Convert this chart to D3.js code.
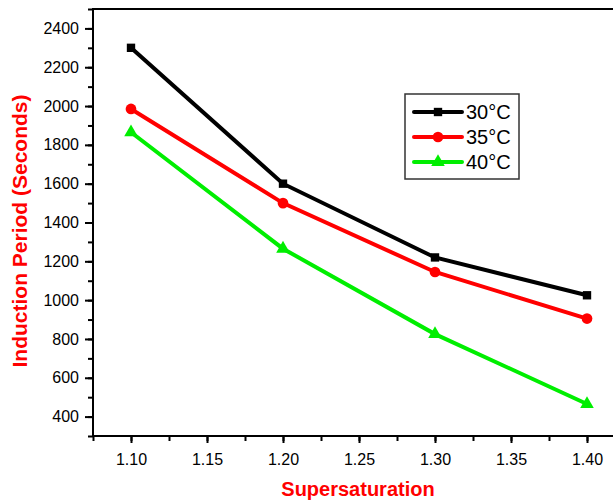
<!DOCTYPE html>
<html lang="en">
<head>
    <meta charset="UTF-8">
    <script src="https://d3js.org/d3.v7.min.js" charset="utf-8"></script>
    <title>Induction period</title>
    <style>
        body { margin: 0; background: #fff; }
        svg { display: block; font-family: "Liberation Sans", Arial, sans-serif; }
    </style>
</head>
<body>
    <div id="chart"></div>
    <script>
        // data
        const supersaturation = [1.10, 1.20, 1.30, 1.40];
        const t30 = [2300, 1600, 1220, 1025];
        const t35 = [1985, 1500, 1145, 905];
        const t40 = [1865, 1265, 825, 465];
        const seriesNames = ["30°C", "35°C", "40°C"];
        const seriesColors = ["#000000", "#ff0000", "#00ee00"];
        const seriesShapes = ["square", "circle", "triangle"];
        const xTicks = [1.10, 1.15, 1.20, 1.25, 1.30, 1.35, 1.40];
        const yTicks = [400, 600, 800, 1000, 1200, 1400, 1600, 1800, 2000, 2200, 2400];

        const width = 613, height = 503;
        const plotLeft = 93, plotTop = 9, plotBottom = 436, plotRight = 625;

        const x = d3.scaleLinear().domain([1.075, 1.425]).range([plotLeft, plotRight]);
        const y = d3.scaleLinear().domain([300, 2500]).range([plotBottom, plotTop]);

        const svg = d3.select("#chart").append("svg")
            .attr("width", width)
            .attr("height", height);

        // frame
        svg.append("rect")
            .attr("x", plotLeft).attr("y", plotTop)
            .attr("width", plotRight - plotLeft).attr("height", plotBottom - plotTop)
            .attr("fill", "none").attr("stroke", "#000").attr("stroke-width", 2);

        // x axis, major + minor
        const xMin = svg.append("g").attr("transform", "translate(0," + plotBottom + ")")
            .call(d3.axisBottom(x).tickValues(d3.range(1.075, 1.43, 0.025)).tickSize(5).tickFormat(""));
        xMin.select(".domain").remove();
        const xMaj = svg.append("g").attr("transform", "translate(0," + plotBottom + ")")
            .call(d3.axisBottom(x).tickValues(xTicks).tickSize(7).tickPadding(11).tickFormat(d3.format(".2f")));
        xMaj.select(".domain").remove();
        xMaj.selectAll("text").attr("font-size", 16).attr("fill", "#000").attr("font-family", "Liberation Sans, Arial, sans-serif");

        // y axis, major + minor
        const yMin = svg.append("g").attr("transform", "translate(" + plotLeft + ",0)")
            .call(d3.axisLeft(y).tickValues(d3.range(300, 2501, 100)).tickSize(5).tickFormat(""));
        yMin.select(".domain").remove();
        const yMaj = svg.append("g").attr("transform", "translate(" + plotLeft + ",0)")
            .call(d3.axisLeft(y).tickValues(yTicks).tickSize(8).tickPadding(6).tickFormat(d3.format("d")));
        yMaj.select(".domain").remove();
        yMaj.selectAll("text").attr("font-size", 16).attr("fill", "#000").attr("font-family", "Liberation Sans, Arial, sans-serif");
        svg.selectAll(".tick line").attr("stroke-width", 2);

        // titles
        svg.append("text")
            .attr("x", 358).attr("y", 496)
            .attr("text-anchor", "middle")
            .attr("font-size", 20).attr("font-weight", "bold").attr("fill", "#ff0000")
            .text("Supersaturation");
        svg.append("text")
            .attr("transform", "translate(27,231) rotate(-90)")
            .attr("text-anchor", "middle")
            .attr("font-size", 21).attr("font-weight", "bold").attr("fill", "#ff0000")
            .text("Induction Period (Seconds)");

        const symbolFor = {
            square: d3.symbol().type(d3.symbolSquare).size(70),
            circle: d3.symbol().type(d3.symbolCircle).size(90),
            triangle: d3.symbol().type(d3.symbolTriangle).size(80)
        };

        const allSeries = [t30, t35, t40];
        const line = d3.line().x(d => x(d[0])).y(d => y(d[1]));

        allSeries.forEach((vals, i) => {
            const pts = supersaturation.map((s, j) => [s, vals[j]]);
            svg.append("path")
                .datum(pts)
                .attr("d", line)
                .attr("fill", "none")
                .attr("stroke", seriesColors[i])
                .attr("stroke-width", 4);
            svg.append("g").selectAll("path")
                .data(pts)
                .enter()
                .append("path")
                .attr("d", symbolFor[seriesShapes[i]])
                .attr("transform", d => "translate(" + x(d[0]) + "," + y(d[1]) + ")")
                .attr("fill", seriesColors[i]);
        });

        // legend
        const legend = svg.append("g").attr("transform", "translate(405,94)");
        legend.append("rect")
            .attr("width", 114).attr("height", 85)
            .attr("fill", "#fff").attr("stroke", "#333").attr("stroke-width", 1.5);
        seriesNames.forEach((name, i) => {
            const row = legend.append("g").attr("transform", "translate(0," + (18 + i * 25) + ")");
            row.append("line")
                .attr("x1", 9).attr("x2", 57)
                .attr("stroke", seriesColors[i]).attr("stroke-width", 4)
                .attr("stroke-linecap", "round");
            row.append("path")
                .attr("d", symbolFor[seriesShapes[i]])
                .attr("transform", "translate(33,0)")
                .attr("fill", seriesColors[i]);
            row.append("text")
                .attr("x", 61).attr("y", 7)
                .attr("font-size", 20).attr("fill", "#000")
                .text(name);
        });
    </script>
</body>
</html>
